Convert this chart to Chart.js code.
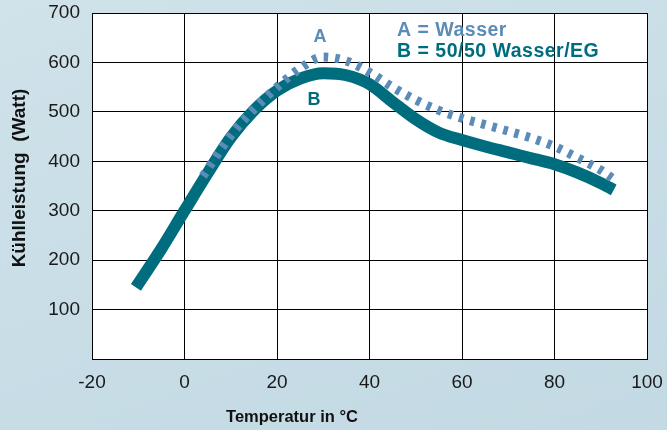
<!DOCTYPE html>
<html>
<head>
<meta charset="utf-8">
<script src="https://cdn.jsdelivr.net/npm/chart.js@4.4.1/dist/chart.umd.min.js"></script>
<style>
  html, body { margin: 0; padding: 0; }
  body {
    width: 667px; height: 430px; overflow: hidden;
    background: linear-gradient(160deg, #d0e2ea 0%, #c9dee7 45%, #c3d9e3 100%);
  }
  #wrap { position: relative; width: 667px; height: 430px; }
</style>
</head>
<body>
<div id="wrap"><canvas id="c" width="667" height="430"></canvas></div>
<script>
// ---- data ----
const tempsA  = [4, 10, 15, 20, 25, 30, 35, 40, 45, 50, 55, 60, 65, 70, 75, 80, 85, 90, 92.5];
const valuesA = [370, 452, 505, 550, 588, 611, 603, 580, 550, 524, 503, 487, 474, 461, 447, 430, 407, 382, 366];
const tempsB  = [-10.5, -5, 0, 5, 10, 15, 20, 25, 30, 35, 40, 45, 50, 55, 60, 65, 70, 75, 80, 85, 90, 92.8];
const valuesB = [145, 223, 300, 376, 448, 503, 543, 567, 578, 574, 556, 520, 485, 458, 443, 430, 418, 406, 394, 377, 356, 342];
const xTicks  = [-20, 0, 20, 40, 60, 80, 100];
const yTicks  = [100, 200, 300, 400, 500, 600, 700];
const seriesNames = ['A', 'B'];
const legendLines = ['A = Wasser', 'B = 50/50 Wasser/EG'];
const xTitle = 'Temperatur in °C';
const yTitle = 'Kühlleistung  (Watt)';

const colA = '#5b8cb9';
const colB = '#006d7e';
const FONT = '"Liberation Sans", Arial, Helvetica, sans-serif';

const ptsA = tempsA.map((t, i) => ({ x: t, y: valuesA[i] }));
const ptsB = tempsB.map((t, i) => ({ x: t, y: valuesB[i] }));

const decor = {
  id: 'decor',
  beforeDraw(chart) {
    const { ctx, chartArea: a } = chart;
    ctx.save();
    ctx.fillStyle = '#ffffff';
    ctx.fillRect(a.left, a.top, a.right - a.left, a.bottom - a.top);
    ctx.restore();
  },
  afterDraw(chart) {
    const { ctx } = chart;
    ctx.save();
    // legend text
    ctx.textAlign = 'left';
    ctx.textBaseline = 'alphabetic';
    ctx.font = 'bold 19.5px ' + FONT;
    ctx.letterSpacing = '0.5px';
    ctx.fillStyle = colA;
    ctx.fillText(legendLines[0], 397, 36);
    ctx.fillStyle = colB;
    ctx.fillText(legendLines[1], 397, 57);
    ctx.letterSpacing = '0px';
    // curve labels
    ctx.textAlign = 'center';
    ctx.textBaseline = 'middle';
    ctx.font = 'bold 18px ' + FONT;
    ctx.fillStyle = colA;
    ctx.fillText(seriesNames[0], 320, 37);
    ctx.fillStyle = colB;
    ctx.fillText(seriesNames[1], 314, 100);
    // x title
    ctx.fillStyle = '#111';
    ctx.font = 'bold 16.5px ' + FONT;
    ctx.textBaseline = 'alphabetic';
    ctx.fillText(xTitle, 292, 422);
    // y title
    ctx.translate(25, 178);
    ctx.rotate(-Math.PI / 2);
    ctx.font = 'bold 19px ' + FONT;
    ctx.textBaseline = 'alphabetic';
    ctx.fillText(yTitle, 0, 0);
    ctx.restore();
  }
};

function noPad(scale) {
  scale.paddingLeft = 0; scale.paddingRight = 0;
  scale.paddingTop = 0; scale.paddingBottom = 0;
}

new Chart(document.getElementById('c'), {
  type: 'line',
  data: {
    datasets: [
      {
        label: seriesNames[0],
        data: ptsA,
        borderColor: colA,
        borderWidth: 9,
        borderDash: [4.5, 7],
        borderCapStyle: 'butt',
        pointRadius: 0,
        cubicInterpolationMode: 'monotone',
        fill: false
      },
      {
        label: seriesNames[1],
        data: ptsB,
        borderColor: colB,
        borderWidth: 12,
        borderCapStyle: 'butt',
        borderJoinStyle: 'round',
        pointRadius: 0,
        cubicInterpolationMode: 'monotone',
        fill: false
      }
    ]
  },
  options: {
    responsive: false,
    animation: false,
    events: [],
    layout: { padding: { top: 13, right: 20, left: 0, bottom: 0 } },
    plugins: { legend: { display: false }, tooltip: { enabled: false }, title: { display: false } },
    scales: {
      x: {
        type: 'linear',
        min: -20, max: 100,
        afterBuildTicks(scale) { scale.ticks = xTicks.map(v => ({ value: v })); },
        afterFit(scale) { scale.height = 71; noPad(scale); },
        grid: { color: '#000', lineWidth: 1, drawTicks: false },
        border: { color: '#000', width: 1 },
        ticks: { padding: 12, color: '#1a1a1a', font: { family: FONT, size: 19 }, maxRotation: 0 }
      },
      y: {
        type: 'linear',
        min: 0, max: 700,
        afterBuildTicks(scale) { scale.ticks = [0].concat(yTicks).map(v => ({ value: v })); },
        afterFit(scale) { scale.width = 92; noPad(scale); },
        grid: { color: '#000', lineWidth: 1, drawTicks: false },
        border: { color: '#000', width: 1 },
        ticks: {
          padding: 12, color: '#1a1a1a', font: { family: FONT, size: 19 },
          callback: (v) => (yTicks.includes(v) ? String(v) : '')
        }
      }
    }
  },
  plugins: [decor]
});
</script>
</body>
</html>
